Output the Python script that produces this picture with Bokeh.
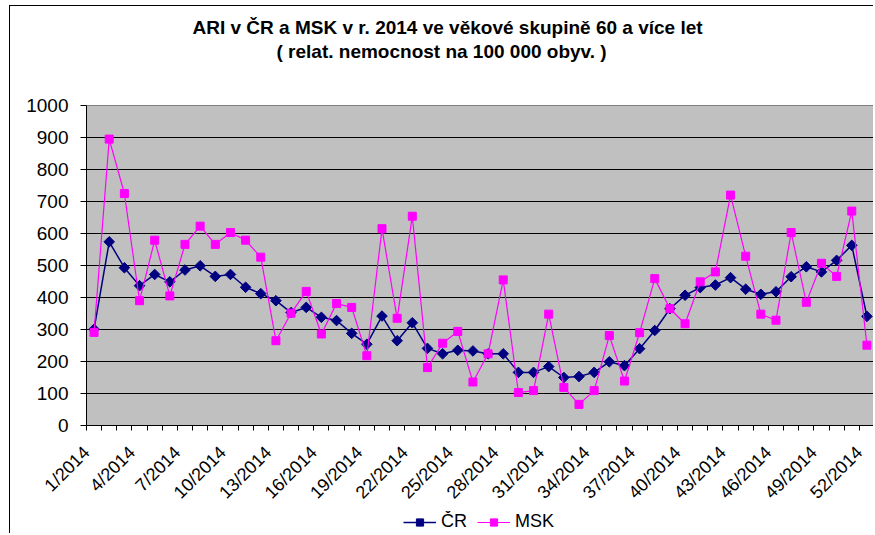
import math
from bokeh.plotting import figure
from bokeh.layouts import column
from bokeh.models import FixedTicker, Legend, LegendItem, Title, ColumnDataSource
from bokeh.embed import file_html
from bokeh.resources import INLINE

weeks = list(range(1, 53))
cr = [301, 574, 493, 437, 472, 449, 486, 499, 466, 472, 432, 412, 390, 353, 369, 338,
      328, 288, 254, 342, 265, 321, 241, 224, 235, 233, 224, 224, 166, 166, 184, 150,
      153, 166, 199, 187, 240, 297, 365, 407, 431, 439, 462, 426, 410, 418, 465, 496,
      480, 516, 563, 341]
msk = [291, 895, 725, 390, 579, 405, 566, 623, 566, 603, 579, 526, 265, 351, 419, 286,
       381, 369, 218, 615, 335, 654, 181, 257, 294, 136, 224, 455, 103, 109, 348, 119,
       66, 109, 281, 139, 290, 459, 365, 318, 449, 480, 720, 529, 348, 329, 603, 385,
       507, 466, 670, 251]
label_weeks = list(range(1, 53, 3))
y_ticks = list(range(0, 1001, 100))
title1 = "ARI v ČR a MSK v r. 2014 ve věkové skupině 60 a více let"
title2 = "( relat. nemocnost na 100 000 obyv. )"
series_names = ["ČR", "MSK"]

FONT = "Liberation Sans"
CR_COLOR = "#000080"
MSK_COLOR = "#FF00FF"
LABEL_SHIFT = 0.5  # labels sit slightly left of their category, as in the original

src = ColumnDataSource(dict(week=weeks, cr=cr, msk=msk))

p = figure(width=863, height=527, frame_width=787, frame_height=319,
           x_range=(0.5, len(weeks) + 0.5), y_range=(0, 1000),
           output_backend="svg", toolbar_location=None,
           min_border_left=76, min_border_top=99, min_border_bottom=109, min_border_right=0,
           background_fill_color="#C0C0C0", border_fill_color="white",
           outline_line_color="#808080")
p.styles = {"border-left": "1px solid black", "border-top": "1px solid black",
            "margin-left": "9px", "margin-top": "5px"}

# titles: spacer nearest the frame, then second line, then first line
p.add_layout(Title(text=" ", text_font_size="1px", standoff=40), "above")
p.add_layout(Title(text=title2, align="left", offset=190, standoff=1,
                   text_font=FONT, text_font_size="19px", text_font_style="bold",
                   text_color="black"), "above")
p.add_layout(Title(text=title1, align="left", offset=106, standoff=1,
                   text_font=FONT, text_font_size="19px", text_font_style="bold",
                   text_color="black"), "above")

# grid
p.xgrid.visible = False
p.ygrid.ticker = FixedTicker(ticks=y_ticks)
p.ygrid.grid_line_color = "black"
p.ygrid.grid_line_width = 1

# y axis
p.yaxis.ticker = FixedTicker(ticks=y_ticks)
p.yaxis.axis_line_color = "black"
p.yaxis.major_tick_out = 6
p.yaxis.major_tick_in = 0
p.yaxis.minor_tick_line_color = None
p.yaxis.major_label_text_font = FONT
p.yaxis.major_label_text_font_size = "19px"
p.yaxis.major_label_text_color = "black"
p.yaxis.major_label_standoff = 12

# x axis
boundaries = [w - 0.5 for w in weeks] + [weeks[-1] + 0.5]
label_ticks = [w - LABEL_SHIFT for w in label_weeks]
p.xaxis.ticker = FixedTicker(ticks=label_ticks, minor_ticks=boundaries)
p.xaxis.major_label_overrides = {t: f"{w}/2014" for t, w in zip(label_ticks, label_weeks)}
p.xaxis.axis_line_color = "black"
p.xaxis.major_tick_out = 0
p.xaxis.major_tick_in = 0
p.xaxis.minor_tick_out = 5
p.xaxis.minor_tick_in = 0
p.xaxis.minor_tick_line_color = "black"
p.xaxis.major_label_orientation = math.pi / 4
p.xaxis.major_label_text_font = FONT
p.xaxis.major_label_text_font_size = "18px"
p.xaxis.major_label_text_color = "black"
p.xaxis.major_label_standoff = 19

p.line("week", "cr", source=src, line_color=CR_COLOR, line_width=1.5)
p.scatter("week", "cr", source=src, marker="square", angle=math.pi / 4, size=7.5,
          fill_color=CR_COLOR, line_color=CR_COLOR)
p.line("week", "msk", source=src, line_color=MSK_COLOR, line_width=1.2)
p.scatter("week", "msk", source=src, marker="square", size=8,
          fill_color=MSK_COLOR, line_color=MSK_COLOR)

# legend strip laid over the bottom of the chart; its renderers use the same data,
# which falls outside this strip's ranges, so only the legend itself shows
lg = figure(width=260, height=21, x_range=(-2, -1), y_range=(-2, -1),
            x_axis_type=None, y_axis_type=None, output_backend="svg",
            toolbar_location=None, min_border=0, outline_line_color=None,
            background_fill_alpha=0, border_fill_alpha=0)
lg.grid.visible = False
lg.styles = {"margin-left": "327px", "margin-top": "-22px"}
k1 = lg.line("week", "cr", source=src, line_color=CR_COLOR, line_width=1.5)
m1 = lg.scatter("week", "cr", source=src, marker="square", angle=math.pi / 4, size=7.5,
                fill_color=CR_COLOR, line_color=CR_COLOR)
k2 = lg.line("week", "msk", source=src, line_color=MSK_COLOR, line_width=1.2)
m2 = lg.scatter("week", "msk", source=src, marker="square", size=8,
                fill_color=MSK_COLOR, line_color=MSK_COLOR)
legend = Legend(items=[LegendItem(label=series_names[0], renderers=[k1, m1]),
                       LegendItem(label=series_names[1], renderers=[k2, m2])],
                orientation="horizontal", location="top_left",
                glyph_width=33, glyph_height=18, label_standoff=5, spacing=10,
                padding=0, margin=0, border_line_color=None, background_fill_alpha=0,
                label_text_font=FONT, label_text_font_size="18px",
                label_text_color="black", label_height=18)
lg.add_layout(legend, "center")

layout = column(p, lg, spacing=0)
open("out.html", "w").write(file_html(layout, INLINE))
